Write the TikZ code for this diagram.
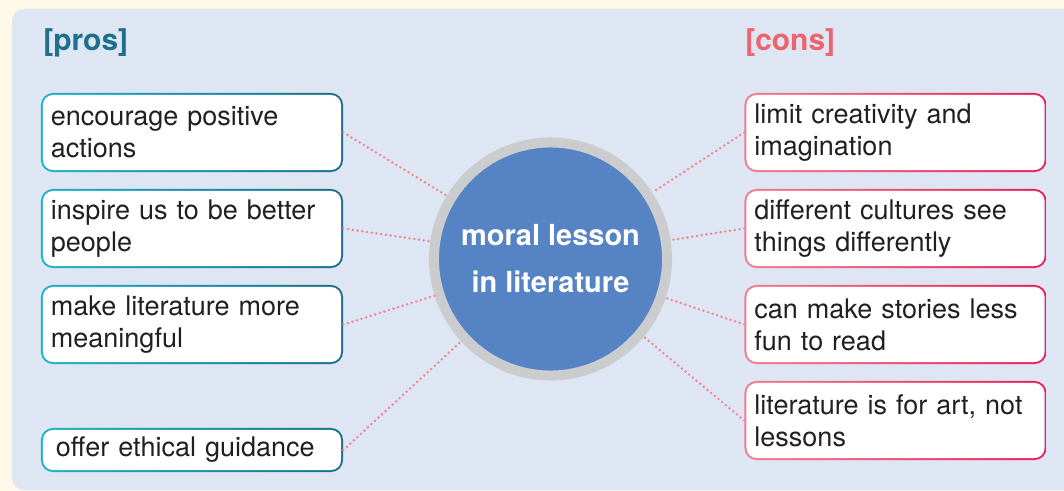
\documentclass[tikz,border=0pt]{standalone}
\usepackage{fontspec}
\setmainfont{TeX Gyre Heros}
\usepackage{tikz}

\definecolor{cream}{HTML}{FDF8E8}
\definecolor{panel}{HTML}{DFE6F3}
\definecolor{prohead}{HTML}{1E6F8C}
\definecolor{conhead}{HTML}{EE646E}
\definecolor{proL}{HTML}{1BB3CA}
\definecolor{proR}{HTML}{1C6E8C}
\definecolor{conL}{HTML}{F27D8E}
\definecolor{conR}{HTML}{EA1E5B}
\definecolor{hubblue}{HTML}{5683C3}
\definecolor{ring}{HTML}{CBCCCE}
\definecolor{dots}{HTML}{F08890}
\definecolor{ink}{HTML}{231F20}

\newcommand\cardfont{\fontsize{19.2}{22.8}\selectfont}
\newcommand\tagfont{\fontsize{21.3}{25}\selectfont\bfseries}
\newcommand\hubfont{\fontsize{20.6}{33.4}\selectfont\bfseries}

\begin{document}
\begin{tikzpicture}[x=0.025cm, y=-0.025cm,
	card/.style={rectangle, rounded corners=0.3cm, minimum width=7.55cm, minimum height=1.975cm,
		text width=7.05cm, inner xsep=0.25cm, align=left, text=ink, font=\cardfont,
		path picture={\fill[white, rounded corners=0.25cm]
			([shift={(0.05cm,0.05cm)}]path picture bounding box.south west) rectangle
			([shift={(-0.05cm,-0.05cm)}]path picture bounding box.north east);}},
	pro/.style={card, left color=proL, right color=proR},
	con/.style={card, left color=conL, right color=conR},
	link/.style={dots, line width=2pt, line cap=round, dash pattern=on 0pt off 3.4pt}]
	\useasboundingbox (0,0) rectangle (1064,491);
	\fill[cream] (0,0) rectangle (1064,491);
	\begin{scope}
		\clip (0,0) rectangle (1064,491);
		\fill[panel, rounded corners=0.3cm] (12,9) rectangle (1100,490);
	\end{scope}

	\node[anchor=west, inner sep=0pt, text=prohead, font=\tagfont] (protag) at (43,43) {[pros]};
	\node[anchor=west, inner sep=0pt, text=conhead, font=\tagfont] (contag) at (745,43) {[cons]};

	\node[circle, fill=hubblue, draw=ring, line width=0.25cm, minimum size=5.825cm, outer sep=0.125cm,
		text=white, align=center, font=\hubfont] (hub) at (550.5,259) {moral lesson\\in literature};

	\node[pro] (pro1) at (192,132.5) {encourage positive\\actions};
	\node[pro] (pro2) at (192,228.5) {inspire us to be better\\people};
	\node[pro] (pro3) at (192,324.5) {make literature more\\meaningful};
	\node[pro, minimum height=1.1cm, inner xsep=0.375cm, text width=6.8cm] (pro4) at (192,450) {offer ethical guidance};

	\node[con] (con1) at (895.5,132.5) {limit creativity and\\imagination};
	\node[con] (con2) at (895.5,228.5) {different cultures see\\things differently};
	\node[con] (con3) at (895.5,324.5) {can make stories less\\fun to read};
	\node[con] (con4) at (895.5,420.5) {literature is for art, not\\lessons};

	\foreach \i in {1,...,4} {
		\draw[link] (pro\i.east) -- (hub);
		\draw[link] (con\i.west) -- (hub);
	}
\end{tikzpicture}
\end{document}
